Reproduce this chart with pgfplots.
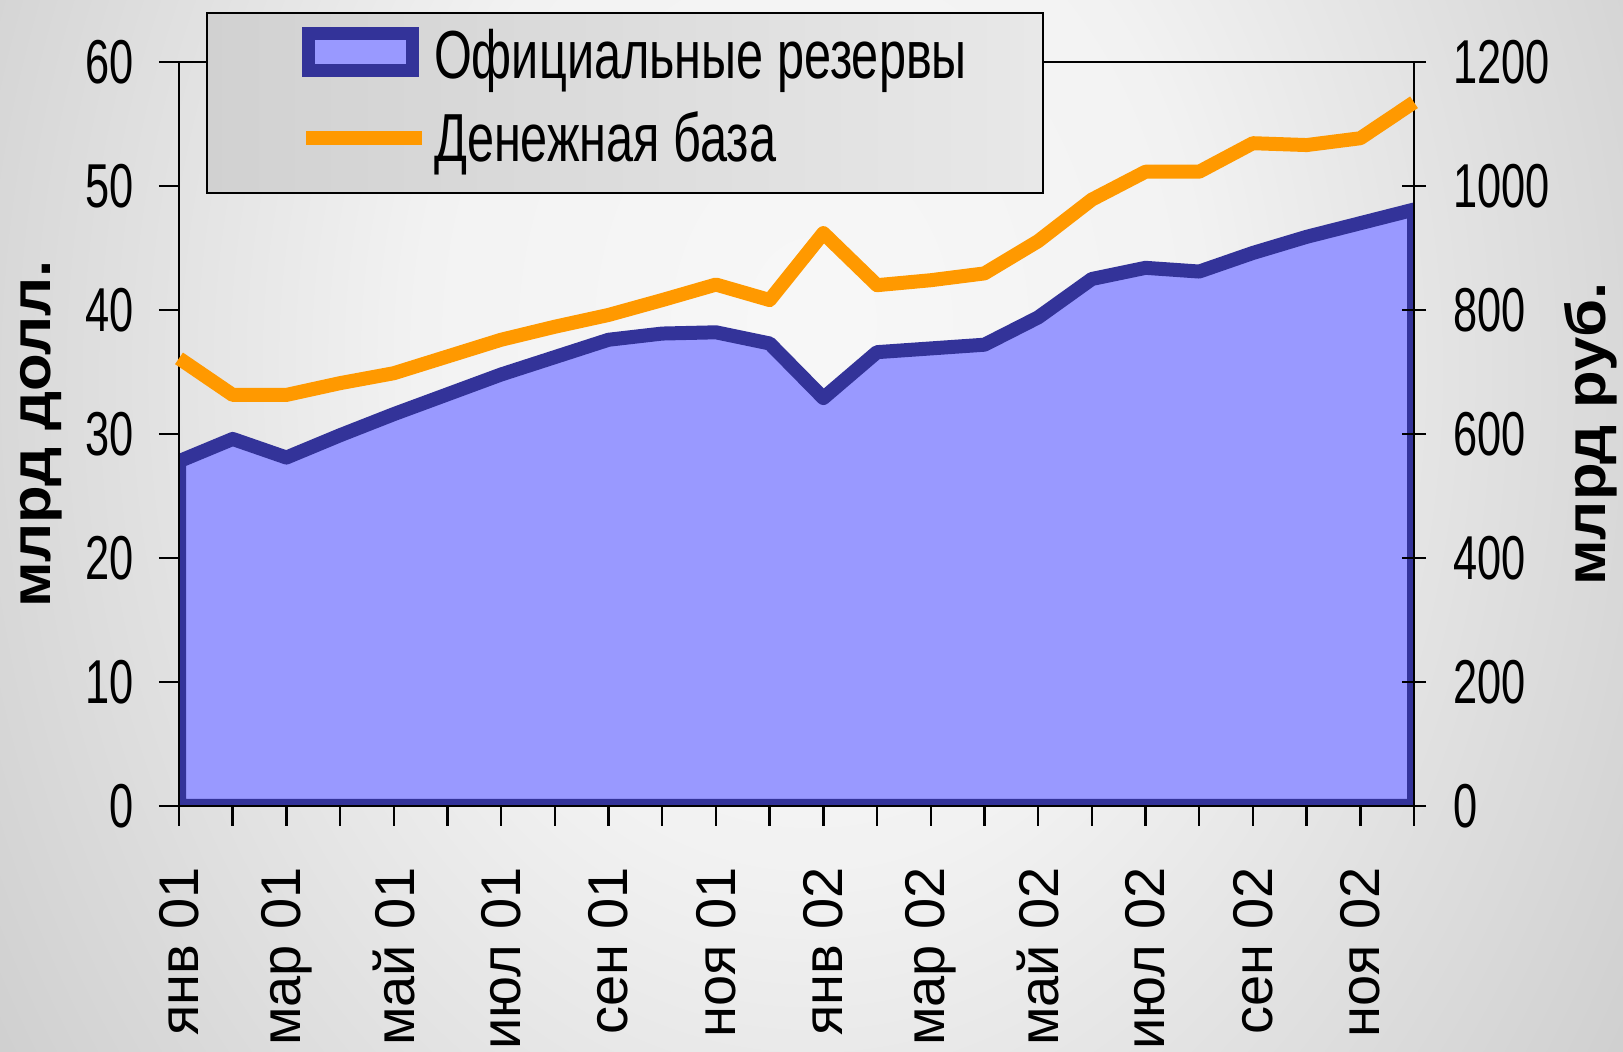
\documentclass[border=0pt]{standalone}
\usepackage{pgfplots}
\pgfplotsset{compat=1.18}
\usepackage{fontspec}
\setmainfont{Liberation Sans}
\newfontfamily\numfont[FakeStretch=0.70]{Liberation Sans}
\newfontfamily\legfont[FakeStretch=0.715]{Liberation Sans}
\newfontfamily\labfont[FakeStretch=1.1]{Liberation Sans}
\definecolor{areafill}{HTML}{9999FF}
\definecolor{areaedge}{HTML}{333399}
\definecolor{baseorange}{HTML}{FF9900}
\pgfdeclareradialshading{bgshade}{\pgfpoint{0bp}{5bp}}{color(0bp)=(white!97!black); color(12bp)=(white!95!black); color(30bp)=(white!81!black); color(50bp)=(white!58!black); color(75bp)=(white!52!black)}
\begin{document}
\begin{tikzpicture}[x=1pt,y=1pt]
\begin{scope}
\clip (0,0) rectangle (811.5,526);
\shade[shading=bgshade] (0,-263) rectangle (811.5,789);
\end{scope}
\begin{axis}[
  at={(89.5pt,123pt)}, anchor=south west, scale only axis,
  width=617.5pt, height=372pt,
  xmin=0, xmax=23, ymin=0, ymax=60,
  axis line style={line width=1.2pt, black},
  axis on top,
  xtick={0,...,23},
  xticklabels={янв 01,,мар 01,,май 01,,июл 01,,сен 01,,ноя 01,,янв 02,,мар 02,,май 02,,июл 02,,сен 02,,ноя 02,{}},
  xtick pos=bottom, ytick pos=left,
  ytick={0,10,...,60},
  tick align=outside, major tick length=10pt,
  tick style={line width=1.2pt, black},
  xticklabel style={rotate=90, anchor=east, xshift=-17pt, font=\fontsize{28}{30}\selectfont},
  yticklabel style={xshift=-9pt, font=\numfont\fontsize{31}{34}\selectfont},
  /pgf/number format/assume math mode=true,
  ylabel={млрд долл.},
  ylabel style={at={(axis description cs:-0.111,0.5)}, anchor=center, inner sep=0pt, text height=15pt, text depth=6pt, font=\labfont\bfseries\fontsize{28}{32}\selectfont},
]
\addplot[fill=areafill, draw=areaedge, line width=7pt, line join=round] coordinates {
(0,27.8)(1,29.6)(2,28.1)(3,29.9)(4,31.6)(5,33.2)(6,34.8)(7,36.2)(8,37.6)(9,38.1)(10,38.2)(11,37.3)(12,32.9)(13,36.6)(14,36.9)(15,37.2)(16,39.4)(17,42.5)(18,43.4)(19,43.1)(20,44.6)(21,45.9)(22,47.0)(23,48.1)
} \closedcycle;
\end{axis}
\begin{axis}[
  at={(89.5pt,123pt)}, anchor=south west, scale only axis,
  width=617.5pt, height=372pt,
  xmin=0, xmax=23, ymin=0, ymax=1200,
  hide x axis, axis y line*=right,
  clip=false,
  axis line style={line width=1.2pt, black},
  ytick={0,200,...,1200},
  tick align=center, major tick length=12pt,
  tick style={line width=1.2pt, black},
  yticklabel style={xshift=10pt, font=\numfont\fontsize{31}{34}\selectfont},
  /pgf/number format/assume math mode=true,
  /pgf/number format/1000 sep={},
  ylabel={млрд руб.},
  ylabel style={at={(axis description cs:1.1445,0.5)}, anchor=center, inner sep=0pt, text height=19pt, text depth=6pt, font=\labfont\bfseries\fontsize{28}{32}\selectfont},
  legend cell align=left,
  legend style={at={(axis description cs:0.3672,0.949)}, anchor=center, draw=none, fill=none, font=\legfont\fontsize{34}{38}\selectfont, row sep=6pt,
    nodes={inner sep=1.5pt}},
]
\draw[line width=1.2pt, left color=white!82!black, right color=white!91!black] (axis description cs:0.02267,1.0659) rectangle (axis description cs:0.6996,0.8243);
\addlegendimage{legend image code/.code={\path (0pt,-16pt) (61pt,16pt); \draw[fill=areafill, draw=areaedge, line width=6.5pt] (3.25pt,-7.9pt) rectangle (55.25pt,10.6pt);}}
\addplot[baseorange, line width=7pt, line join=round, legend image code/.code={\path (0pt,-16pt) (61pt,16pt); \draw[baseorange, line width=7pt] (2pt,0.2pt) -- (60pt,0.2pt);}] coordinates {
(0,722)(1,663)(2,663)(3,682)(4,698)(5,725)(6,752)(7,773)(8,792)(9,816)(10,841)(11,816)(12,924)(13,840)(14,848)(15,859)(16,911)(17,978)(18,1023)(19,1023)(20,1069)(21,1066)(22,1077)(23,1135)
};
\legend{Официальные резервы, Денежная база}
\end{axis}
\pgfresetboundingbox
\useasboundingbox (0,0) rectangle (811.5,526);
\end{tikzpicture}
\end{document}
